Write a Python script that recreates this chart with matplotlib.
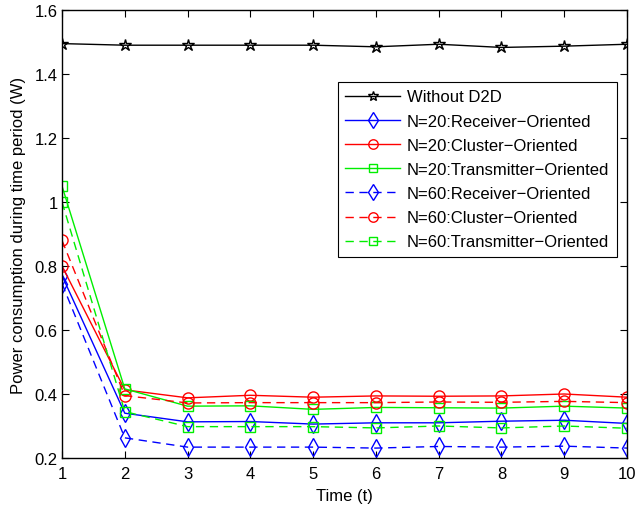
import matplotlib
matplotlib.use("Agg")
import matplotlib.pyplot as plt

plt.rcParams['font.family'] = ['Liberation Sans', 'DejaVu Sans']

t = [1, 2, 3, 4, 5, 6, 7, 8, 9, 10]
without_d2d = [1.495, 1.490, 1.490, 1.490, 1.490, 1.485, 1.493, 1.483, 1.487, 1.493]
n20_receiver = [0.77, 0.340, 0.313, 0.314, 0.306, 0.310, 0.310, 0.315, 0.318, 0.308]
n20_cluster = [0.80, 0.413, 0.388, 0.396, 0.390, 0.394, 0.393, 0.394, 0.400, 0.390]
n20_transmitter = [1.05, 0.416, 0.362, 0.363, 0.352, 0.358, 0.357, 0.356, 0.362, 0.356]
n60_receiver = [0.745, 0.263, 0.234, 0.234, 0.234, 0.231, 0.236, 0.234, 0.237, 0.231]
n60_cluster = [0.88, 0.395, 0.372, 0.373, 0.373, 0.373, 0.375, 0.374, 0.377, 0.373]
n60_transmitter = [1.00, 0.345, 0.298, 0.298, 0.298, 0.294, 0.300, 0.294, 0.300, 0.293]

labels = ["Without D2D",
          "N=20:Receiver\u2212Oriented",
          "N=20:Cluster\u2212Oriented",
          "N=20:Transmitter\u2212Oriented",
          "N=60:Receiver\u2212Oriented",
          "N=60:Cluster\u2212Oriented",
          "N=60:Transmitter\u2212Oriented"]

fig = plt.figure(figsize=(6.39, 5.06), dpi=100)
ax = fig.add_axes([62/639, 1-459/506, (627-62)/639, (459-11)/506])

G = '#00ee00'
series = [
    (without_d2d, 'k', '-', '*', 9),
    (n20_receiver, 'b', '-', 'd', 9),
    (n20_cluster, 'r', '-', 'o', 8),
    (n20_transmitter, G, '-', 's', 7),
    (n60_receiver, 'b', '--', 'd', 9),
    (n60_cluster, 'r', '--', 'o', 8),
    (n60_transmitter, G, '--', 's', 7),
]
for (vals, c, ls, m, ms), lab in zip(series, labels):
    kw = {}
    if ls == '--':
        kw['dashes'] = (6, 4)
    ax.plot(t, vals, color=c, linestyle=ls, marker=m, markersize=ms,
            markerfacecolor='none', markeredgecolor=c, linewidth=1.0,
            markeredgewidth=1.0, label=lab, **kw)

FS = 12
ax.set_xlim(1, 10)
ax.set_ylim(0.2, 1.6)
ax.set_xticks(t)
ax.set_yticks([0.2, 0.4, 0.6, 0.8, 1.0, 1.2, 1.4, 1.6])
ax.set_yticklabels(['0.2', '0.4', '0.6', '0.8', '1', '1.2', '1.4', '1.6'])
ax.tick_params(direction='in', top=True, right=True, labelsize=FS, length=5, width=0.8, pad=3)
ax.tick_params(axis='x', pad=6)
for s in ax.spines.values():
    s.set_linewidth(1.0)
ax.set_xlabel('Time (t)', fontsize=FS, labelpad=5)
ax.set_ylabel('Power consumption during time period (W)', fontsize=FS, labelpad=6)

leg = ax.legend(loc='upper right', bbox_to_anchor=(617/639, 1-83/506), bbox_transform=fig.transFigure,
                fontsize=FS, frameon=True, fancybox=False, edgecolor='k',
                handlelength=3.3, handletextpad=0.4, borderpad=0.45, labelspacing=0.55,
                borderaxespad=0, markerscale=0.85)
leg.get_frame().set_linewidth(0.8)
leg.get_frame().set_facecolor('white')
leg.get_frame().set_alpha(1)

fig.savefig('out.png', dpi=100)
